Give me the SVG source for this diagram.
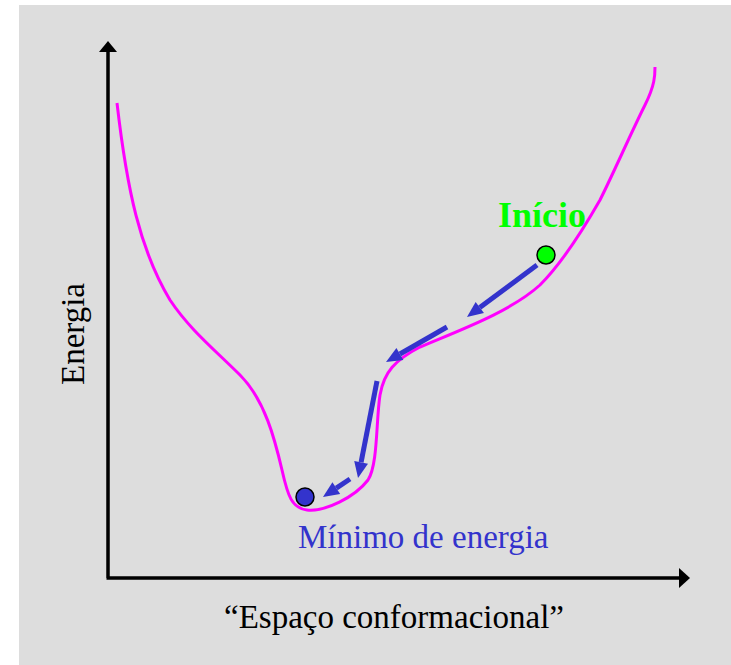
<svg xmlns="http://www.w3.org/2000/svg" width="731" height="665" viewBox="0 0 731 665">
<style>
.t{font-family:"Liberation Serif","Times New Roman",serif}
.axis{stroke:#000;stroke-width:3.5;fill:none}
.arr{stroke:#3333cc;stroke-width:5;fill:none;marker-end:url(#ah)}
</style>
<defs>
<marker id="ah" markerUnits="userSpaceOnUse" markerWidth="17" markerHeight="15" refX="0" refY="7" orient="auto" overflow="visible">
<path d="M0,0 L16,7 L0,14 z" fill="#3333cc"/>
</marker>
</defs>
<rect x="19" y="5" width="712" height="660" fill="#dddddd"/>
<g id="axes">
<path class="axis" d="M108,578 V51 M106.5,578 H680"/>
<polygon points="99,52 117,52 108,41" fill="#000"/>
<polygon points="679,568 679,588 690,578" fill="#000"/>
</g>
<g id="curve">
<path d="M117,103 C127,190 140,250 170,300 C190,330 215,350 240,375 C265,400 275,440 282,470 C288,497 292,508 307,510 C325,512 355,497 368,480 C378,465 376,420 380,395 C384,372 395,360 420,347 C460,330 510,312 540,285 C560,265 580,235 600,200 C615,170 630,135 645,105 C655,85 655,75 655,67" fill="none" stroke="#ff00ff" stroke-width="3"/>
</g>
<g id="connectors">
<line class="arr" x1="537" y1="265" x2="479.8" y2="307.5"/>
<line class="arr" x1="447" y1="327" x2="399.9" y2="354"/>
<line class="arr" x1="377" y1="381" x2="361.1" y2="462.3"/>
<line class="arr" x1="350" y1="479" x2="336.3" y2="488.1"/>
</g>
<g id="start">
<circle cx="546" cy="255" r="9" fill="#00ff00" stroke="#000" stroke-width="1.5"/>
<text class="t" x="498" y="227" font-size="36" font-weight="bold" fill="#00ff00">Início</text>
</g>
<g id="minimum">
<circle cx="305" cy="497" r="9" fill="#3333cc" stroke="#000" stroke-width="1.5"/>
<text class="t" x="298" y="548" font-size="33" fill="#3333cc">Mínimo de energia</text>
</g>
<g id="labels">
<text class="t" x="394" y="628" font-size="33" text-anchor="middle" fill="#000">“Espaço conformacional”</text>
<text class="t" transform="translate(84,334) rotate(-90)" font-size="33" text-anchor="middle" fill="#000">Energia</text>
</g>
</svg>
